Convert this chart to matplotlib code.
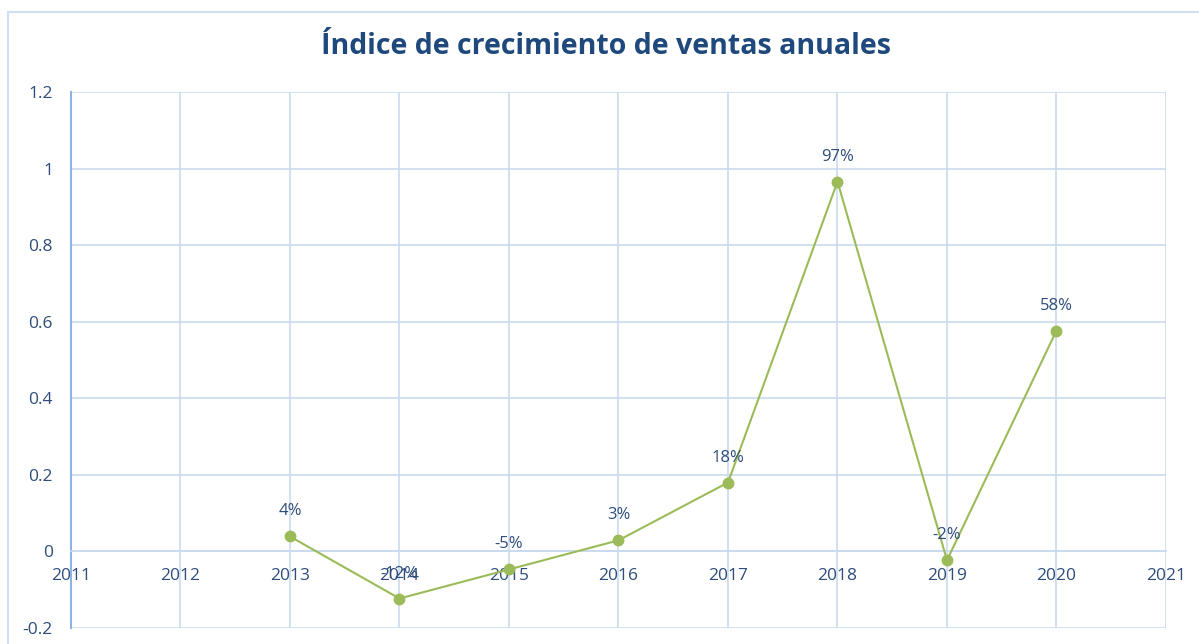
import matplotlib.pyplot as plt
from matplotlib.patches import Rectangle
from matplotlib.ticker import FuncFormatter

# data
years = [2013, 2014, 2015, 2016, 2017, 2018, 2019, 2020]
growth = [0.039, -0.123, -0.047, 0.029, 0.18, 0.966, -0.023, 0.577]
x_ticks = list(range(2011, 2022))
y_ticks = [-0.2, 0, 0.2, 0.4, 0.6, 0.8, 1, 1.2]

txt_col = "#2E4D7B"
grid_col = "#C9DAF0"
line_col = "#9BBB59"

plt.rcParams['font.family'] = ['Open Sans', 'DejaVu Sans']

fig = plt.figure(figsize=(11.99, 6.44), dpi=100)
ax = fig.add_axes([71/1199, 1-628/644, (1166-71)/1199, (628-92)/644])

# chart frame
fig.patches.append(Rectangle((8/1199, -0.1), 1.2, 1-12/644+0.1, transform=fig.transFigure,
                             fill=False, edgecolor="#D0DFF2", linewidth=1.5))

ax.plot(years, growth, color=line_col, linewidth=1.5, marker='o', markersize=7.5,
        markerfacecolor=line_col, markeredgecolor=line_col, zorder=3)
for x, y in zip(years, growth):
    ax.annotate(f"{y:.0%}", (x, y), xytext=(0, 18), textcoords="offset points",
                ha="center", va="center", color=txt_col, fontsize=12)

ax.set_xlim(2011, 2021)
ax.set_ylim(-0.2, 1.2)
ax.set_xticks(x_ticks)
ax.set_yticks(y_ticks)
ax.yaxis.set_major_formatter(FuncFormatter(lambda v, p: f"{v:g}"))
ax.grid(True, color=grid_col, linewidth=1.2)
ax.set_axisbelow(True)

for s in ["top", "right"]:
    ax.spines[s].set_visible(False)
ax.spines["left"].set_color("#8EB4E3")
ax.spines["left"].set_linewidth(1.5)
ax.spines["bottom"].set_position(("data", 0))
ax.spines["bottom"].set_color(grid_col)
ax.spines["bottom"].set_linewidth(1.2)

ax.tick_params(axis="both", length=0, labelcolor=txt_col, labelsize=12.5)
ax.tick_params(axis="x", pad=12)
ax.tick_params(axis="y", pad=13)

fig.text(606/1199, 1-47/644, "Índice de crecimiento de ventas anuales", ha="center", va="center",
         fontsize=20.5, fontweight="bold", color="#1F497D")

fig.savefig("out.png", dpi=100)
